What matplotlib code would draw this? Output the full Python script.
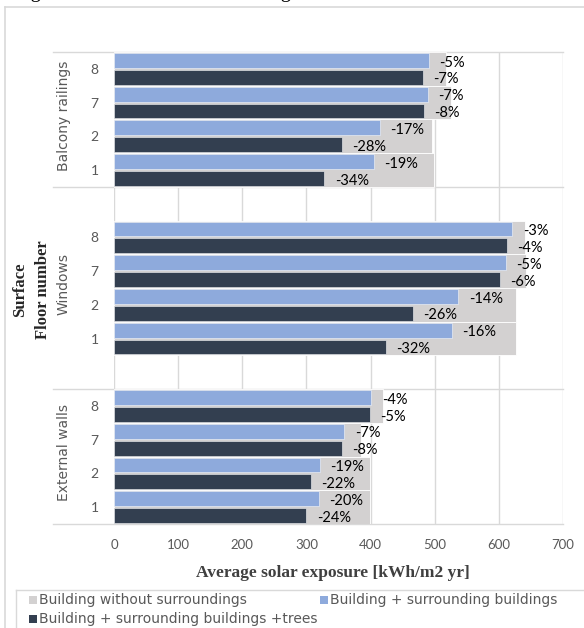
import numpy as np
import matplotlib
matplotlib.use("Agg")
import matplotlib.pyplot as plt
from matplotlib.patches import Rectangle
from matplotlib.lines import Line2D
import matplotlib.transforms as mtransforms

# data (kWh/m2 yr)
surfaces = ["External walls", "Windows", "Balcony railings"]
floors = ["1", "2", "7", "8"]

no_surroundings = {
    "External walls": [399, 399, 385, 420],
    "Windows": [627, 627, 643, 641],
    "Balcony railings": [499, 496, 525, 517],
}
with_buildings = {
    "External walls": [319, 321, 359, 401],
    "Windows": [527, 537, 611, 621],
    "Balcony railings": [405, 414, 489, 491],
}
with_trees = {
    "External walls": [300, 307, 355, 399],
    "Windows": [424, 466, 602, 613],
    "Balcony railings": [328, 355, 483, 481],
}
pct_buildings = {
    "External walls": ["-20%", "-19%", "-7%", "-4%"],
    "Windows": ["-16%", "-14%", "-5%", "-3%"],
    "Balcony railings": ["-19%", "-17%", "-7%", "-5%"],
}
pct_trees = {
    "External walls": ["-24%", "-22%", "-8%", "-5%"],
    "Windows": ["-32%", "-26%", "-6%", "-4%"],
    "Balcony railings": ["-34%", "-28%", "-8%", "-7%"],
}
series_names = ["Building without surroundings",
                "Building + surrounding buildings",
                "Building + surrounding buildings +trees"]
x_ticks = [0, 100, 200, 300, 400, 500, 600, 700]

c_gray = "#d3d1d1"
c_blue = "#8eaadc"
c_dark = "#333f50"
c_grid = "#d9d9d9"
c_label = "#595959"

W, H = 584, 628
fig = plt.figure(figsize=(W / 100, H / 100), dpi=100)

def fx(px):
    return px / W

def fy(py):
    return 1 - py / H

ax = fig.add_axes([fx(114), fy(524), fx(563) - fx(114), fy(52) - fy(524)])
tr = mtransforms.blended_transform_factory(ax.transAxes, ax.transData)

slots = []
for g, surf in enumerate(surfaces):
    pos = np.arange(4) + g * 5
    slots.extend(pos)
    ax.barh(pos, no_surroundings[surf], height=1.0, color=c_gray,
            edgecolor="white", linewidth=0.6, zorder=2)
    ax.barh(pos + 0.25, with_buildings[surf], height=0.44, color=c_blue,
            edgecolor="#e8ecf4", linewidth=0.5, zorder=3)
    ax.barh(pos - 0.25, with_trees[surf], height=0.44, color=c_dark,
            edgecolor="#dfe1e4", linewidth=0.5, zorder=3)
    for i in range(4):
        ax.annotate(pct_buildings[surf][i], (with_buildings[surf][i], pos[i] + 0.25),
                    xytext=(7.5, -1.5), textcoords="offset points",
                    ha="left", va="center", fontsize=10.5, family="Lato",
                    color="black", zorder=4)
        ax.annotate(pct_trees[surf][i], (with_trees[surf][i], pos[i] - 0.25),
                    xytext=(7.5, -1.5), textcoords="offset points",
                    ha="left", va="center", fontsize=10.5, family="Lato",
                    color="black", zorder=4)
    # group label
    ax.text((64 - 114) / 449, g * 5 + 1.5 + 0.12, surf, transform=tr, rotation=90,
            ha="center", va="center", fontsize=10, family="DejaVu Sans",
            color=c_label)

ax.set_xlim(0, 700)
ax.set_ylim(-0.5, 13.5)
ax.set_xticks(x_ticks)
ax.set_xticklabels([str(v) for v in x_ticks], family="Lato", fontsize=9.5, color=c_label)
ax.set_yticks(slots)
ax.set_yticklabels(floors * 3, family="Lato", fontsize=10, color=c_label)
ax.tick_params(axis="x", length=0, pad=11)
ax.tick_params(axis="y", length=0, pad=11)
for s in ax.spines.values():
    s.set_visible(False)
ax.xaxis.grid(True, color=c_grid, linewidth=1.0, zorder=0)
ax.set_axisbelow(True)

# separator lines of the category groups
for yy in [13.5, 9.5, 3.5, -0.5]:
    ax.plot([(53 - 114) / 449, 1], [yy, yy], transform=tr, color=c_grid,
            linewidth=1.0, clip_on=False, zorder=1)

# axis titles
fig.text(fx(333), fy(573), "Average solar exposure [kWh/m2 yr]", ha="center", va="center",
         family="Liberation Serif", fontweight="bold", fontsize=12.5, color="#404040")
fig.text(fx(31.5), fy(290), "Surface\nFloor number", ha="center", va="center", rotation=90,
         multialignment="center", linespacing=1.55,
         family="Liberation Serif", fontweight="bold", fontsize=12, color="#262626")

# chart frame and legend box
fig.add_artist(Line2D([fx(5), 1], [fy(7), fy(7)], color=c_grid, linewidth=1.2))
fig.add_artist(Line2D([fx(5), fx(5)], [fy(7), 0], color=c_grid, linewidth=1.2))
fig.add_artist(Line2D([fx(16), 1], [fy(590), fy(590)], color=c_grid, linewidth=1.0))
fig.add_artist(Line2D([fx(16), fx(16)], [fy(590), 0], color=c_grid, linewidth=1.0))

legend_items = [(series_names[0], c_gray, 29, 600),
                (series_names[1], c_blue, 320, 600),
                (series_names[2], c_dark, 29, 619)]
for name, col, x0, y0 in legend_items:
    fig.add_artist(Rectangle((fx(x0), fy(y0 + 4)), 8 / W, 8 / H, transform=fig.transFigure,
                             facecolor=col, edgecolor="none"))
    fig.text(fx(x0 + 10), fy(y0), name, ha="left", va="center", family="DejaVu Sans",
             fontsize=10, color=c_label)

# tail of the document sentence above the chart, cut by the crop
fig.text(fx(-2), fy(0) + 3.5 / H, "ering with the outdoor surroundings was considered.",
         ha="left", va="baseline", family="Liberation Serif", fontsize=15, color="black")

fig.savefig("out.png", dpi=100)
